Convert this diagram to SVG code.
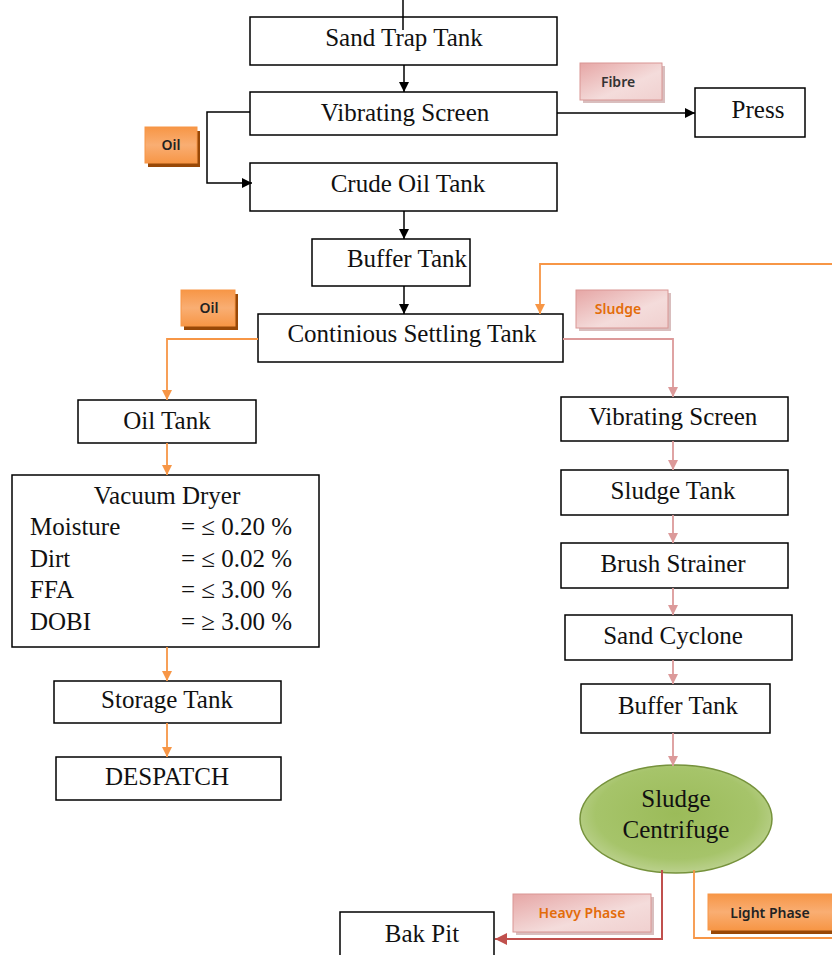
<svg xmlns="http://www.w3.org/2000/svg" width="832" height="955" viewBox="0 0 832 955">
<defs>
<marker id="ab" viewBox="0 0 10 10" refX="10" refY="5" markerWidth="10" markerHeight="10" markerUnits="userSpaceOnUse" orient="auto"><path d="M0,0 L10,5 L0,10 z" fill="#000"/></marker>
<marker id="ao" viewBox="0 0 10 10" refX="10" refY="5" markerWidth="10" markerHeight="10" markerUnits="userSpaceOnUse" orient="auto"><path d="M0,0 L10,5 L0,10 z" fill="#f79646"/></marker>
<marker id="ap" viewBox="0 0 10 10" refX="10" refY="5" markerWidth="10" markerHeight="10" markerUnits="userSpaceOnUse" orient="auto"><path d="M0,0 L10,5 L0,10 z" fill="#dc9a9a"/></marker>
<marker id="ar" viewBox="0 0 10 10" refX="10" refY="5" markerWidth="12" markerHeight="12" markerUnits="userSpaceOnUse" orient="auto"><path d="M0,0 L10,5 L0,10 z" fill="#c0504d"/></marker>
<linearGradient id="go" x1="0" y1="0" x2="0" y2="1"><stop offset="0" stop-color="#f79646"/><stop offset="0.5" stop-color="#f9ae73"/><stop offset="1" stop-color="#f79646"/></linearGradient>
<linearGradient id="gp" x1="0" y1="0" x2="1" y2="1"><stop offset="0" stop-color="#e6a6a5"/><stop offset="0.6" stop-color="#f4dcdb"/><stop offset="1" stop-color="#f0d0cf"/></linearGradient>
<radialGradient id="ge" cx="0.5" cy="0.45" r="0.6"><stop offset="0" stop-color="#9bbb59"/><stop offset="0.7" stop-color="#a6c46a"/><stop offset="1" stop-color="#c3d69b"/></radialGradient>
</defs>
<style>
.box{fill:#fff;stroke:#000;stroke-width:1.5}
.t{font-family:"Liberation Serif","Times New Roman",serif;font-size:25px;fill:#111;text-anchor:middle}
.tl{font-family:"Liberation Serif","Times New Roman",serif;font-size:25px;fill:#111}
.lab{font-family:"Noto Sans","Open Sans",sans-serif;font-size:14px;font-weight:600;text-anchor:middle}
.cb{fill:none;stroke:#000;stroke-width:1.5}
.co{fill:none;stroke:#f79646;stroke-width:1.8}
.cp{fill:none;stroke:#dc9a9a;stroke-width:1.8}
.cr{fill:none;stroke:#c0504d;stroke-width:2}
.lo{fill:url(#go);stroke:#f79646;stroke-width:1}
.lp{fill:url(#gp);stroke:#d99694;stroke-width:1}
.so{fill:#984807}
.sp{fill:#c9a3a2;opacity:0.7}
</style>

<g id="sand-trap-tank"><rect class="box" x="250" y="17" width="307" height="48"/><text class="t" x="404" y="46">Sand Trap Tank</text></g>
<g id="vibrating-screen-1"><rect class="box" x="250" y="92" width="307" height="43"/><text class="t" x="405" y="121">Vibrating Screen</text></g>
<g id="press"><rect class="box" x="695" y="88" width="110" height="49"/><text class="t" x="758" y="118">Press</text></g>
<g id="crude-oil-tank"><rect class="box" x="250" y="163" width="307" height="48"/><text class="t" x="408" y="192">Crude Oil Tank</text></g>
<g id="buffer-tank-1"><rect class="box" x="312" y="239" width="158" height="47"/><text class="t" x="407" y="267">Buffer Tank</text></g>
<g id="continious-settling-tank"><rect class="box" x="258" y="314" width="305" height="48"/><text class="t" x="412" y="342">Continious Settling Tank</text></g>
<g id="oil-tank"><rect class="box" x="78" y="400" width="178" height="43"/><text class="t" x="167" y="429">Oil Tank</text></g>
<g id="vacuum-dryer"><rect class="box" x="12" y="475" width="307" height="172"/>
<text class="t" x="167" y="504">Vacuum Dryer</text>
<text class="tl" x="30" y="535">Moisture</text><text class="tl" x="181" y="535">= ≤ 0.20 %</text>
<text class="tl" x="30" y="567">Dirt</text><text class="tl" x="181" y="567">= ≤ 0.02 %</text>
<text class="tl" x="30" y="598">FFA</text><text class="tl" x="181" y="598">= ≤ 3.00 %</text>
<text class="tl" x="30" y="630">DOBI</text><text class="tl" x="181" y="630">= ≥ 3.00 %</text>
</g>
<g id="storage-tank"><rect class="box" x="54" y="681" width="227" height="42"/><text class="t" x="167" y="708">Storage Tank</text></g>
<g id="despatch"><rect class="box" x="56" y="757" width="225" height="43"/><text class="t" x="167" y="785">DESPATCH</text></g>
<g id="vibrating-screen-2"><rect class="box" x="561" y="397" width="227" height="44"/><text class="t" x="673" y="425">Vibrating Screen</text></g>
<g id="sludge-tank"><rect class="box" x="561" y="470" width="227" height="45"/><text class="t" x="673" y="499">Sludge Tank</text></g>
<g id="brush-strainer"><rect class="box" x="561" y="543" width="227" height="45"/><text class="t" x="673" y="572">Brush Strainer</text></g>
<g id="sand-cyclone"><rect class="box" x="565" y="615" width="227" height="45"/><text class="t" x="673" y="644">Sand Cyclone</text></g>
<g id="buffer-tank-2"><rect class="box" x="581" y="684" width="189" height="49"/><text class="t" x="678" y="714">Buffer Tank</text></g>
<g id="sludge-centrifuge"><ellipse cx="676" cy="819" rx="96" ry="54" fill="url(#ge)" stroke="#76923c" stroke-width="1.5"/><text class="t" x="676" y="807">Sludge</text><text class="t" x="676" y="838">Centrifuge</text></g>
<g id="bak-pit"><rect class="box" x="340" y="912" width="154" height="50"/><text class="t" x="422" y="942">Bak Pit</text></g>

<g id="label-fibre"><rect class="sp" x="583" y="66" width="82" height="37"/><rect class="lp" x="580" y="63" width="82" height="37"/><text class="lab" x="618" y="87" fill="#333">Fibre</text></g>
<g id="label-oil-1"><rect class="so" x="148" y="131" width="52" height="36"/><rect class="lo" x="145" y="127" width="52" height="36"/><text class="lab" x="171" y="150" fill="#222">Oil</text></g>
<g id="label-oil-2"><rect class="so" x="184" y="294" width="54" height="36"/><rect class="lo" x="181" y="290" width="54" height="36"/><text class="lab" x="209" y="313" fill="#222">Oil</text></g>
<g id="label-sludge"><rect class="sp" x="579" y="293" width="92" height="38"/><rect class="lp" x="576" y="290" width="92" height="38"/><text class="lab" x="618" y="314" fill="#e36c09">Sludge</text></g>
<g id="label-heavy"><rect class="sp" x="516" y="897" width="138" height="38"/><rect class="lp" x="513" y="894" width="138" height="38"/><text class="lab" x="582" y="918" fill="#e36c09">Heavy Phase</text></g>
<g id="label-light"><rect class="so" x="711" y="898" width="125" height="36"/><rect class="lo" x="708" y="894" width="126" height="36"/><text class="lab" x="770" y="918" fill="#222">Light Phase</text></g>

<g id="connectors">
<line class="cb" x1="403" y1="0" x2="403" y2="30"/>
<line class="cb" x1="404" y1="65" x2="404" y2="92" marker-end="url(#ab)"/>
<line class="cb" x1="557" y1="113" x2="695" y2="113" marker-end="url(#ab)"/>
<polyline class="cb" points="250,112 207,112 207,183 252,183" marker-end="url(#ab)"/>
<line class="cb" x1="404" y1="211" x2="404" y2="239" marker-end="url(#ab)"/>
<line class="cb" x1="404" y1="286" x2="404" y2="314" marker-end="url(#ab)"/>
<polyline class="co" points="832,264 540,264 540,314" marker-end="url(#ao)"/>
<polyline class="co" points="258,339 167,339 167,400" marker-end="url(#ao)"/>
<polyline class="cp" points="563,339 673,339 673,397" marker-end="url(#ap)"/>
<line class="co" x1="167" y1="443" x2="167" y2="475" marker-end="url(#ao)"/>
<line class="co" x1="167" y1="647" x2="167" y2="681" marker-end="url(#ao)"/>
<line class="co" x1="167" y1="723" x2="167" y2="757" marker-end="url(#ao)"/>
<line class="cp" x1="673" y1="441" x2="673" y2="470" marker-end="url(#ap)"/>
<line class="cp" x1="673" y1="515" x2="673" y2="543" marker-end="url(#ap)"/>
<line class="cp" x1="673" y1="588" x2="673" y2="615" marker-end="url(#ap)"/>
<line class="cp" x1="673" y1="660" x2="673" y2="684" marker-end="url(#ap)"/>
<line class="cp" x1="673" y1="733" x2="673" y2="766" marker-end="url(#ap)"/>
<polyline class="cr" points="662,870 662,939 495,939" marker-end="url(#ar)"/>
<polyline class="co" points="694,870 694,938 832,938"/>
</g>
</svg>
